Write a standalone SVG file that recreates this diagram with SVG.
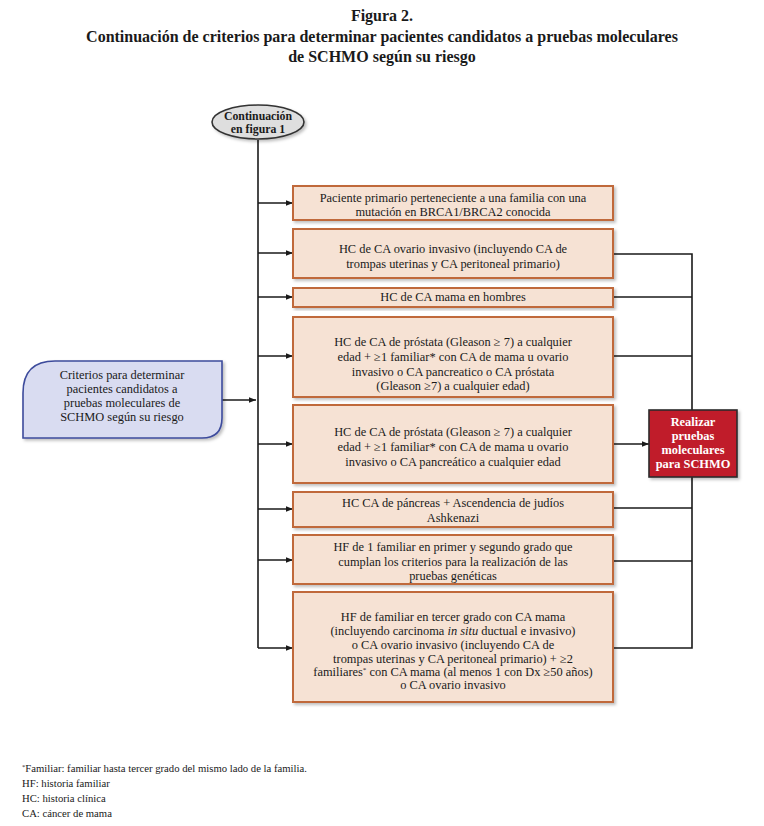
<svg xmlns="http://www.w3.org/2000/svg" width="764" height="826" viewBox="0 0 764 826">
<defs>
<marker id="arr" viewBox="0 0 10 10" refX="10" refY="5" markerWidth="7" markerHeight="7" markerUnits="userSpaceOnUse" orient="auto"><path d="M0,1 L10,5 L0,9 z" fill="#1a1a1a"/></marker>
<filter id="sh" x="-5%" y="-5%" width="115%" height="125%"><feDropShadow dx="2" dy="2" stdDeviation="1.5" flood-color="#000" flood-opacity="0.25"/></filter>
</defs>
<style>
text{font-family:"Liberation Serif","Times New Roman",serif;fill:#1a1a1a}
.t{font-size:16px;font-weight:bold;text-anchor:middle}
.b{font-size:12.4px;text-anchor:middle}
.w{font-size:12.4px;text-anchor:middle;font-weight:bold;fill:#fff}
.ob{font-size:11.8px;text-anchor:middle;font-weight:bold}
.f{font-size:10.7px}
.box{fill:#f6e2d4;stroke:#c0693a;stroke-width:2;filter:url(#sh)}
.ln{fill:none;stroke:#1a1a1a;stroke-width:1.6}
</style>
<rect width="764" height="826" fill="#fff"/>
<g id="title">
<text class="t" x="382" y="21">Figura 2.</text>
<text class="t" x="382" y="42">Continuación de criterios para determinar pacientes candidatos a pruebas moleculares</text>
<text class="t" x="382" y="62">de SCHMO según su riesgo</text>
</g>
<g id="connectors">
<path class="ln" d="M258,140 V648"/>
<path class="ln" d="M222,400 H256" marker-end="url(#arr)"/>
<path class="ln" d="M258,203 H293" marker-end="url(#arr)"/>
<path class="ln" d="M258,253 H293" marker-end="url(#arr)"/>
<path class="ln" d="M258,297 H293" marker-end="url(#arr)"/>
<path class="ln" d="M258,356 H293" marker-end="url(#arr)"/>
<path class="ln" d="M258,444 H293" marker-end="url(#arr)"/>
<path class="ln" d="M258,509 H293" marker-end="url(#arr)"/>
<path class="ln" d="M258,560 H293" marker-end="url(#arr)"/>
<path class="ln" d="M258,648 H293" marker-end="url(#arr)"/>
<path class="ln" d="M613,254 H692 V648 H613"/>
<path class="ln" d="M613,297 H692"/>
<path class="ln" d="M613,356 H692"/>
<path class="ln" d="M613,508 H692"/>
<path class="ln" d="M613,561 H692"/>
<path class="ln" d="M613,444 H649" marker-end="url(#arr)"/>
</g>
<g id="start">
<ellipse cx="258" cy="122" rx="46" ry="17" fill="#dedede" stroke="#333" stroke-width="1.6" filter="url(#sh)"/>
<text class="ob" x="258" y="120">Continuación</text>
<text class="ob" x="258" y="133">en figura 1</text>
</g>
<g id="criteria">
<path d="M55,361 H222 V418 Q222,438 202,438 H23 V393 Q23,361 55,361 z" fill="#d9dcf1" stroke="#3d4b9c" stroke-width="1.6" filter="url(#sh)"/>
<text class="b" x="122" y="379">Criterios para determinar</text>
<text class="b" x="122" y="393">pacientes candidatos a</text>
<text class="b" x="122" y="407">pruebas moleculares de</text>
<text class="b" x="122" y="421">SCHMO según su riesgo</text>
</g>
<g id="n1">
<rect class="box" x="293" y="186" width="320" height="34"/>
<text class="b" x="453" y="202">Paciente primario perteneciente a una familia con una</text>
<text class="b" x="453" y="216">mutación en BRCA1/BRCA2 conocida</text>
</g>
<g id="n2">
<rect class="box" x="293" y="229" width="320" height="49"/>
<text class="b" x="453" y="253">HC de CA ovario invasivo (incluyendo CA de</text>
<text class="b" x="453" y="268">trompas uterinas y CA peritoneal primario)</text>
</g>
<g id="n3">
<rect class="box" x="293" y="288" width="320" height="19"/>
<text class="b" x="453" y="301">HC de CA mama en hombres</text>
</g>
<g id="n4">
<rect class="box" x="293" y="317" width="320" height="80"/>
<text class="b" x="453" y="346">HC de CA de próstata (Gleason ≥ 7) a cualquier</text>
<text class="b" x="453" y="361">edad + ≥1 familiar* con CA de mama u ovario</text>
<text class="b" x="453" y="376">invasivo o CA pancreatico o CA próstata</text>
<text class="b" x="453" y="390">(Gleason ≥7) a cualquier edad)</text>
</g>
<g id="n5">
<rect class="box" x="293" y="405" width="320" height="78"/>
<text class="b" x="453" y="436">HC de CA de próstata (Gleason ≥ 7) a cualquier</text>
<text class="b" x="453" y="451">edad + ≥1 familiar* con CA de mama u ovario</text>
<text class="b" x="453" y="466">invasivo o CA pancreático a cualquier edad</text>
</g>
<g id="n6">
<rect class="box" x="293" y="492" width="320" height="35"/>
<text class="b" x="453" y="507">HC CA de páncreas + Ascendencia de judíos</text>
<text class="b" x="453" y="522">Ashkenazi</text>
</g>
<g id="n7">
<rect class="box" x="293" y="535" width="320" height="49"/>
<text class="b" x="453" y="551">HF de 1 familiar en primer y segundo grado que</text>
<text class="b" x="453" y="566">cumplan los criterios para la realización de las</text>
<text class="b" x="453" y="580">pruebas genéticas</text>
</g>
<g id="n8">
<rect class="box" x="293" y="592" width="320" height="110"/>
<text class="b" x="453" y="621">HF de familiar en tercer grado con CA mama</text>
<text class="b" x="453" y="635">(incluyendo carcinoma <tspan font-style="italic">in situ</tspan> ductual e invasivo)</text>
<text class="b" x="453" y="649">o CA ovario invasivo (incluyendo CA de</text>
<text class="b" x="453" y="663">trompas uterinas y CA peritoneal primario) + ≥2</text>
<text class="b" x="453" y="676">familiares<tspan font-size="7" dy="-4">*</tspan><tspan dy="4"> con CA mama (al menos 1 con Dx ≥50 años)</tspan></text>
<text class="b" x="453" y="689">o CA ovario invasivo</text>
</g>
<g id="result">
<rect x="649" y="410" width="88" height="67" fill="#c01f2a" stroke="#2a2a2a" stroke-width="1.6" filter="url(#sh)"/>
<text class="w" x="693" y="426">Realizar</text>
<text class="w" x="693" y="440">pruebas</text>
<text class="w" x="693" y="454">moleculares</text>
<text class="w" x="693" y="468">para SCHMO</text>
</g>
<g id="notes">
<text class="f" x="22" y="772"><tspan font-size="6.5" dy="-3">*</tspan><tspan dy="3">Familiar: familiar hasta tercer grado del mismo lado de la familia.</tspan></text>
<text class="f" x="22" y="787">HF: historia familiar</text>
<text class="f" x="22" y="802">HC: historia clínica</text>
<text class="f" x="22" y="817">CA: cáncer de mama</text>
</g>
</svg>
